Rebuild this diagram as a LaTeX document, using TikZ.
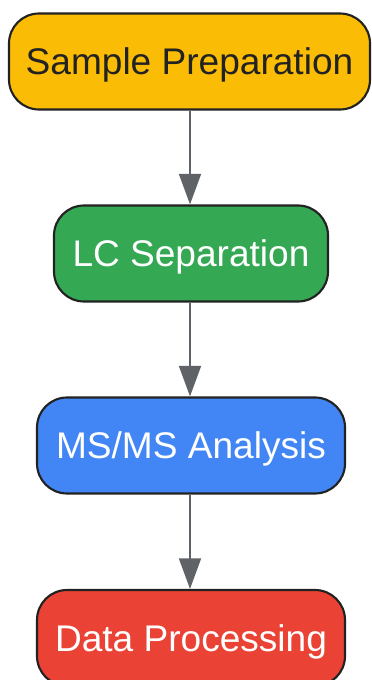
\documentclass[tikz,border=0pt]{standalone}
\usepackage{fontspec}
\setmainfont{Liberation Sans}
\usetikzlibrary{arrows.meta}
\definecolor{cyellow}{HTML}{FBBC05}
\definecolor{cgreen}{HTML}{34A853}
\definecolor{cblue}{HTML}{4285F4}
\definecolor{cred}{HTML}{EA4335}
\definecolor{cborder}{HTML}{222222}
\definecolor{carrow}{HTML}{5F6368}
\tikzset{
  stepbox/.style={draw=cborder, line width=1.6pt, rounded corners=22.5pt,
    minimum height=72pt, inner sep=0pt, align=center, text depth=0pt,
    font=\fontsize{27.8pt}{33pt}\selectfont},
  flowarrow/.style={draw=carrow, line width=1.5pt,
    -{Triangle[length=23pt,width=16.5pt]}}
}
\begin{document}
\begin{tikzpicture}[x=0.75pt,y=-0.75pt]
\useasboundingbox (0,0) rectangle (371,680);
\node[stepbox, fill=cyellow, text=cborder, minimum width=270.75pt] (n1) at (189.5,61.5) {Sample Preparation};
\node[stepbox, fill=cgreen, text=white, minimum width=205.5pt] (n2) at (191,253.5) {LC Separation};
\node[stepbox, fill=cblue, text=white, minimum width=231pt] (n3) at (191,445.5) {MS/MS Analysis};
\node[stepbox, fill=cred, text=white, minimum width=231pt] (n4) at (191,638) {Data Processing};
\draw[flowarrow] (n1.south -| 190,0) -- (n2.north -| 190,0);
\draw[flowarrow] (n2.south -| 190,0) -- (n3.north -| 190,0);
\draw[flowarrow] (n3.south -| 190,0) -- (n4.north -| 190,0);
\end{tikzpicture}
\end{document}
